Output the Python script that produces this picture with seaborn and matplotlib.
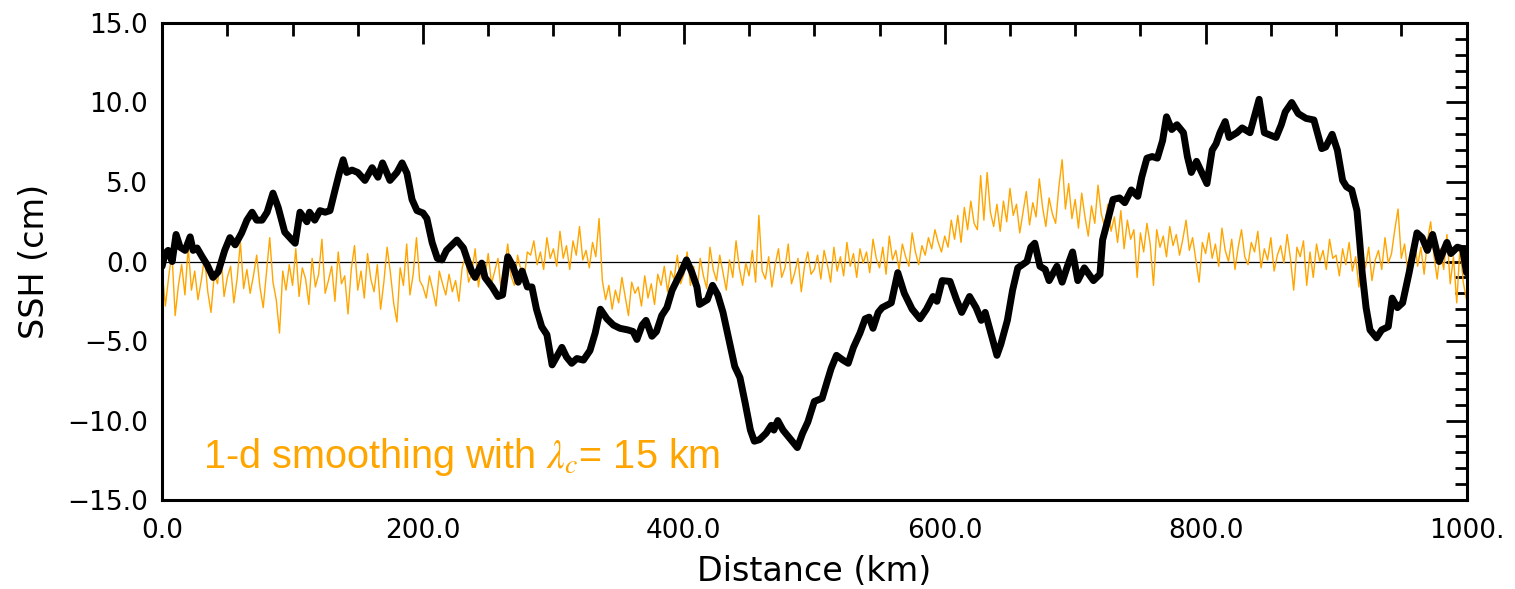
import numpy as np
import pandas as pd
import matplotlib
matplotlib.use("Agg")
import matplotlib.pyplot as plt
import seaborn as sns
from matplotlib.ticker import MultipleLocator, FixedLocator, FixedFormatter

# ---------------- data ----------------
# smoothed SSH profile (black line): distance (km) and SSH (cm)
km_smooth = [0, 2.3, 4.6, 7.7, 10.7, 13.8, 17.6, 21.5, 23.8, 26.8, 30.7, 34.5, 39, 43, 48, 52, 56, 61, 65, 69,
             72.5, 76.6, 80.5, 85, 89, 94, 99.6, 102, 105.7, 111, 113, 117, 121, 125, 128.7, 132.6, 136, 138.8,
             141.5, 145.6, 150, 155.5, 161, 165.5, 169, 174.7, 180, 184, 187.7, 191.6, 195.4, 200, 203, 207,
             211, 214.5, 218, 226, 231, 234.5, 237.5, 240, 245, 247.5, 253, 257.5, 261, 265, 269, 273, 276,
             280, 283.5, 287, 291, 295, 299, 306.5, 310, 314, 318, 323, 328, 332, 336, 341, 346, 351, 357,
             361, 364, 368, 371, 375.5, 379, 383, 387, 391, 394.6, 398, 402, 406, 410, 412, 418, 422, 426,
             430, 435, 439, 443, 447, 451, 454, 458, 463, 467, 469, 472, 476, 481, 487, 491, 495, 500, 506,
             510, 513, 517, 522, 526, 530, 535, 539, 542, 545, 549, 552, 559, 564, 569, 575, 581, 586, 591,
             594, 598, 604, 609, 613, 619, 624, 628, 631, 634, 640, 643, 648, 652, 656, 663, 666, 669, 673,
             677, 680, 686, 690, 694, 698, 702, 707, 714, 719, 721, 725, 729, 734, 738, 743, 748, 751, 755,
             759, 763, 767, 770, 774, 778, 783, 786, 789, 793, 797, 801, 805, 808, 811, 815, 818, 824, 828,
             834, 841, 845, 854, 858, 861, 866, 871, 877, 883, 889, 892, 897, 901, 905, 908, 912, 916, 918,
             920, 923, 926, 931, 935, 940, 943, 947, 951, 956, 962, 966, 970, 974, 979, 985, 988, 993, 997,
             1000]
ssh_smooth = [-0.3, 0.5, 0.7, 0.0, 1.7, 0.9, 0.7, 1.55, 0.7, 0.85, 0.3, -0.2, -1.0, -0.65, 0.7, 1.5, 1.05, 1.8,
              2.6, 3.1, 2.6, 2.6, 3.1, 4.3, 3.4, 1.85, 1.35, 1.15, 3.1, 2.5, 3.1, 2.6, 3.2, 3.1, 3.2, 4.5, 5.6,
              6.4, 5.6, 5.75, 5.6, 5.1, 5.9, 5.3, 6.2, 5.1, 5.6, 6.2, 5.55, 3.9, 3.2, 3.05, 2.7, 1.2, 0.2, 0.1,
              0.7, 1.35, 0.85, 0.0, -0.65, -1.0, -0.1, -1.0, -1.6, -2.2, -2.1, 0.3, -0.3, -1.3, -0.6, -1.6,
              -1.6, -3.0, -4.1, -4.6, -6.5, -5.4, -6.0, -6.4, -6.1, -6.2, -5.6, -4.5, -3.0, -3.6, -4.0, -4.2,
              -4.3, -4.4, -4.9, -4.0, -3.7, -4.7, -4.4, -3.4, -2.9, -1.8, -1.2, -0.65, 0.1, -0.65, -1.6, -2.7,
              -2.4, -1.5, -2.1, -3.2, -5.1, -6.6, -7.3, -8.9, -10.6, -11.3, -11.2, -10.8, -10.3, -10.6, -10.0,
              -10.6, -11.1, -11.7, -10.8, -10.1, -8.8, -8.6, -7.5, -6.7, -5.9, -6.2, -6.4, -5.4, -4.5, -3.6,
              -3.5, -4.2, -3.2, -2.9, -2.6, -0.7, -2.0, -3.0, -3.6, -3.0, -2.2, -2.5, -1.2, -1.25, -2.4, -3.2,
              -2.2, -2.9, -3.7, -3.2, -4.1, -5.9, -5.2, -3.7, -1.8, -0.4, 0.0, 0.9, 1.15, -0.3, -0.5, -1.2,
              -0.3, -1.3, -0.3, 0.6, -1.2, -0.4, -1.2, -0.8, 1.35, 2.6, 3.9, 4.0, 3.7, 4.5, 4.1, 5.3, 6.5, 6.6,
              6.5, 7.6, 9.1, 8.3, 8.6, 8.1, 6.6, 5.6, 6.3, 5.6, 4.9, 7.0, 7.4, 8.1, 8.8, 7.8, 8.1, 8.4, 8.1,
              10.2, 8.1, 7.8, 8.6, 9.4, 10.0, 9.3, 9.0, 8.9, 7.1, 7.2, 8.0, 7.0, 5.1, 4.7, 4.5, 3.2, 1.35,
              -0.7, -2.9, -4.3, -4.8, -4.3, -4.1, -2.3, -2.9, -2.6, -0.7, 1.8, 1.5, 0.7, 1.7, 0.0, 1.2, 0.5,
              0.9, 0.8, -0.7]

# residual after 1-d smoothing (orange line), sampled every 2.5 km from 0 to 1000 km
km_noise_start, km_noise_end, km_noise_step = 0.0, 1000.0, 2.5
ssh_noise = [
    -0.5, -2.8, -1.0, 0.6, -3.4, -1.5, -0.2, -2.1, 0.9, -1.8,
    -0.6, -2.4, -1.2, 0.3, -1.9, -3.2, -0.8, -1.4, 0.5, -2.2,
    -1.0, -0.3, -2.6, -1.1, 1.2, -1.7, -0.5, -2.0, -0.9, 0.4,
    -1.6, -2.9, -0.7, 1.5, -1.3, -2.4, -4.5, -0.6, -1.8, -0.2,
    -1.5, 0.8, -2.2, -0.4, -1.1, -2.7, 0.2, -1.6, -0.8, 1.4,
    -2.0, -1.2, -0.3, -2.5, 0.6, -1.4, -0.9, -3.3, -0.5, 1.0,
    -1.8, -0.6, -2.3, 0.5, -1.1, -1.9, -0.2, -3.0, -1.3, 0.9,
    -0.7, -2.6, -3.8, -0.4, -1.5, 1.1, -2.1, -0.8, 1.5, -1.2,
    -1.6, -2.3, -0.9, -1.8, -2.8, -0.6, -1.4, -2.1, -0.8, -1.9,
    -1.2, -2.5, -0.4, 0.3, -1.3, -0.7, 0.8, -1.6, -0.2, -1.0,
    0.5, -1.4, -0.6, 0.2, -1.9, -0.3, 1.1, -0.9, -1.5, 0.4,
    -0.5, -1.1, 0.6, 0.4, 1.3, -0.2, 0.6, -0.5, 1.5, 0.2,
    0.8, -0.3, 1.9, 0.2, 1.0, -0.5, 1.3, 0.4, 2.2, 0.1,
    0.7, -0.4, 1.2, 0.3, 2.7, -1.2, -2.4, -1.5, -3.0, -1.8,
    -2.6, -1.0, -2.2, -3.4, -1.3, -2.0, -1.6, -2.8, -0.9, -2.3,
    -1.4, -2.7, -0.8, -1.5, -0.3, -1.9, -0.6, -1.1, 0.4, -1.4,
    -0.8, 0.6, -1.5, -0.3, -2.0, 0.2, -0.9, -1.7, 0.9, -0.5,
    -1.2, 0.4, -0.7, -1.8, 0.1, -1.0, 1.3, -0.4, -1.5, -0.1,
    -0.9, 0.7, -1.3, 2.9, -0.6, -1.1, 0.3, -1.6, -0.2, 0.8,
    -1.0, -0.4, 1.1, -1.4, -0.7, 0.2, -1.9, -0.3, 0.6, -0.8,
    -0.5, 0.4, -1.1, 0.7, -0.2, -1.3, 0.9, -0.6, 0.3, -0.9,
    1.2, -0.3, 0.5, -1.0, 0.8, -0.1, 0.6, -0.7, 1.4, 0.2,
    -0.4, 0.9, -0.8, 1.6, 0.1, 0.7, -0.5, 1.1, 0.3, -0.3,
    1.8, 0.6, -0.2, 1.0, 0.4, 1.5, 0.8, 2.0, 1.2, 0.6,
    1.6, 0.9, 2.6, 1.4, 2.9, 1.2, 3.4, 2.0, 3.8, 2.4,
    2.0, 5.4, 2.6, 5.6, 3.1, 2.2, 3.6, 1.9, 3.8, 2.5,
    4.6, 2.9, 3.6, 1.8, 3.1, 4.4, 2.3, 3.7, 2.8, 5.2,
    3.4, 2.2, 4.0, 3.0, 2.4, 4.7, 6.4, 3.3, 4.9, 2.7,
    3.9, 2.1, 4.3, 2.8, 1.6, 3.5, 2.4, 4.8, 3.0, 2.2,
    3.6, 1.9, 2.8, 1.2, 3.2, 0.8, 2.6, 1.4, 2.0, -1.0,
    1.8, 0.6, 2.4, 1.1, -1.5, 2.0, 0.9, 1.6, 0.3, 2.2,
    1.0, 1.7, 0.4, 1.4, 2.6, 0.7, 1.5, 0.1, -1.3, 1.2,
    0.5, 1.8, 0.2, 1.1, -0.3, 2.1, 0.7, 0.0, 1.4, -0.5,
    0.9, 2.0, 0.3, -0.2, 1.2, 0.6, 1.9, -0.4, 0.8, 0.1,
    1.5, -0.6, 0.4, 1.0, -0.1, 1.7, 0.2, -1.8, 0.9, 0.3,
    1.3, -1.5, 0.6, -1.0, 1.1, 0.0, 0.7, -0.5, 1.4, 0.2,
    0.4, -0.9, 0.8, -0.2, 1.2, -0.6, 0.3, -1.6, 0.6, -0.4,
    0.9, -1.2, 0.1, 0.7, -0.5, 1.5, -0.1, 0.5, 2.0, 3.3,
    0.2, 1.1, -0.7, 0.6, 1.6, -0.3, 0.9, -0.8, 1.3, 2.5,
    0.4, -1.1, 0.8, -0.5, 1.7, -1.4, 0.3, -2.6, 0.9, -1.3,
    -2.4,
]

x_ticks = [0, 200, 400, 600, 800, 1000]
x_tick_labels = ["0.0", "200.0", "400.0", "600.0", "800.0", "1000."]
y_ticks = [-15, -10, -5, 0, 5, 10, 15]
y_tick_labels = ["\u221215.0", "\u221210.0", "\u22125.0", "0.0", "5.0", "10.0", "15.0"]

# ---------------- plot ----------------
sns.set_style("white")
plt.rcParams["font.family"] = ["DejaVu Sans"]
plt.rcParams["mathtext.fontset"] = "stix"

fig = plt.figure(figsize=(15.15, 5.89), dpi=100)
ax = fig.add_axes([0.107, 0.151, 0.861, 0.810])

km_noise = np.arange(km_noise_start, km_noise_end + km_noise_step / 2, km_noise_step)
df_noise = pd.DataFrame({"km": km_noise, "ssh": ssh_noise})
df_smooth = pd.DataFrame({"km": km_smooth, "ssh": ssh_smooth})

ax.axhline(0, color="black", lw=0.9, zorder=1)
sns.lineplot(data=df_noise, x="km", y="ssh", ax=ax, color="#FFA500", lw=1.0,
             estimator=None, sort=False, zorder=2)
sns.lineplot(data=df_smooth, x="km", y="ssh", ax=ax, color="black", lw=5.0,
             estimator=None, sort=False, zorder=3, solid_joinstyle="round", solid_capstyle="round")

ax.set_xlim(0, 1000)
ax.set_ylim(-15, 15)
ax.xaxis.set_major_locator(FixedLocator(x_ticks))
ax.xaxis.set_major_formatter(FixedFormatter(x_tick_labels))
ax.xaxis.set_minor_locator(MultipleLocator(50))
ax.yaxis.set_major_locator(FixedLocator(y_ticks))
ax.yaxis.set_major_formatter(FixedFormatter(y_tick_labels))
ax.yaxis.set_minor_locator(MultipleLocator(1))

ax.tick_params(which="both", direction="in", top=True, right=True, width=2, colors="black",
               labelsize=19)
ax.tick_params(which="major", length=15)
ax.tick_params(axis="x", which="major", pad=13)
ax.tick_params(axis="y", which="major", pad=10)
ax.tick_params(which="minor", length=9)
for s in ax.spines.values():
    s.set_linewidth(2.2)
    s.set_color("black")

ax.set_xlabel("Distance (km)", fontsize=24, labelpad=8, color="black")
ax.set_ylabel("SSH (cm)", fontsize=24, labelpad=12, color="black")

ax.text(0.031, 0.09, r"1-d smoothing with $\lambda_c$= 15 km", transform=ax.transAxes,
        color="#FFA500", fontsize=28.5, va="center", ha="left", family="Liberation Sans")

fig.savefig("out.png", dpi=100)
